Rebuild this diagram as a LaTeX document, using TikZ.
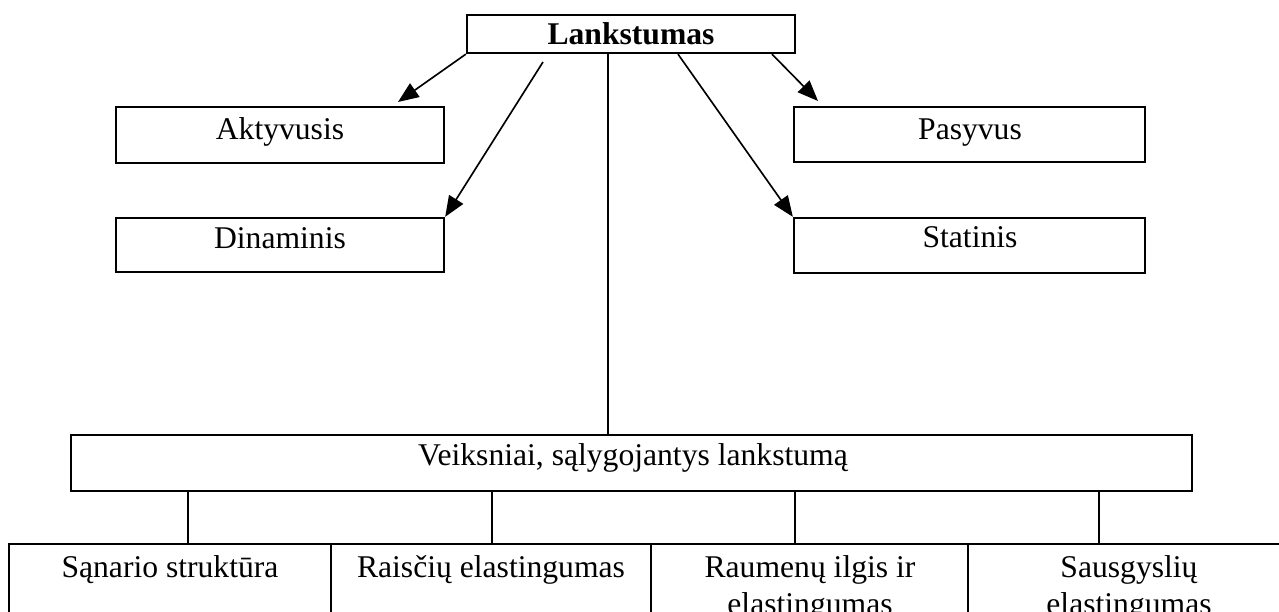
\documentclass[tikz,border=0pt]{standalone}
\usepackage{fontspec}
\setmainfont{Liberation Serif}
\usetikzlibrary{arrows.meta,fit}
\begin{document}
\begin{tikzpicture}[x=0.3636pt,y=-0.3636pt,
  box/.style={draw,line width=0.85pt,inner sep=0pt},
  lbl/.style={font=\fontsize{11.5}{13.4}\selectfont,inner sep=0pt,anchor=base},
  mlbl/.style={font=\fontsize{11.5}{13.4}\selectfont,inner sep=0pt,align=center,anchor=north},
  link/.style={line width=0.6pt},
  arr/.style={link,-{Triangle[length=7.5pt,width=6pt]}}]
\useasboundingbox (0,0) rectangle (1279,612);
\clip (0,0) rectangle (1279,612);

% root
\node[box,fit={(467,15)(795,53)}] (root) {};
\node[lbl] (rootT) at (631,45) {\textbf{Lankstumas}};

% kinds of flexibility
\node[box,fit={(116,107)(444,163)}] (akt) {};
\node[lbl] (aktT) at (280,140) {Aktyvusis};
\node[box,fit={(116,218)(444,272)}] (din) {};
\node[lbl] (dinT) at (280,249) {Dinaminis};
\node[box,fit={(794,107)(1145,162)}] (pas) {};
\node[lbl] (pasT) at (970,140) {Pasyvus};
\node[box,fit={(794,218)(1145,273)}] (sta) {};
\node[lbl] (staT) at (970,248) {Statinis};

% factors
\node[box,fit={(71,435)(1192,491)}] (veik) {};
\node[lbl] (veikT) at (633,466) {Veiksniai, sąlygojantys lankstumą};

% factor boxes (run past the lower edge)
\node[box,fit={(9,544)(331,660)}] (f1) {};
\node[box,fit={(331,544)(651,660)}] (f2) {};
\node[box,fit={(651,544)(968,660)}] (f3) {};
\node[box,fit={(968,544)(1300,660)}] (f4) {};
\node[mlbl] (f1T) at (170,555) {Sąnario struktūra};
\node[mlbl] (f2T) at (491,555) {Raisčių elastingumas};
\node[mlbl] (f3T) at (810,555) {Raumenų ilgis ir\\elastingumas};
\node[mlbl] (f4T) at (1129,555) {Sausgyslių\\elastingumas};

% arrow end points
\coordinate (aktTip) at (398,102);
\coordinate (pasTip) at (818,101);
\coordinate (dinStart) at (543,62);

% arrows from the root
\draw[arr] (root.south west) -- (aktTip);
\draw[arr] (dinStart) -- (din.north east);
\draw[arr] (root.south -| 678,0) -- (sta.north west);
\draw[arr] (root.south -| 772,0) -- (pasTip);

% root to factors
\draw[link] (root.south -| 608,0) -- (veik.north -| 608,0);

% factors to factor boxes
\draw[link] (veik.south -| 188,0) -- (f1.north -| 188,0);
\draw[link] (veik.south -| 492,0) -- (f2.north -| 492,0);
\draw[link] (veik.south -| 795,0) -- (f3.north -| 795,0);
\draw[link] (veik.south -| 1099,0) -- (f4.north -| 1099,0);
\end{tikzpicture}
\end{document}
